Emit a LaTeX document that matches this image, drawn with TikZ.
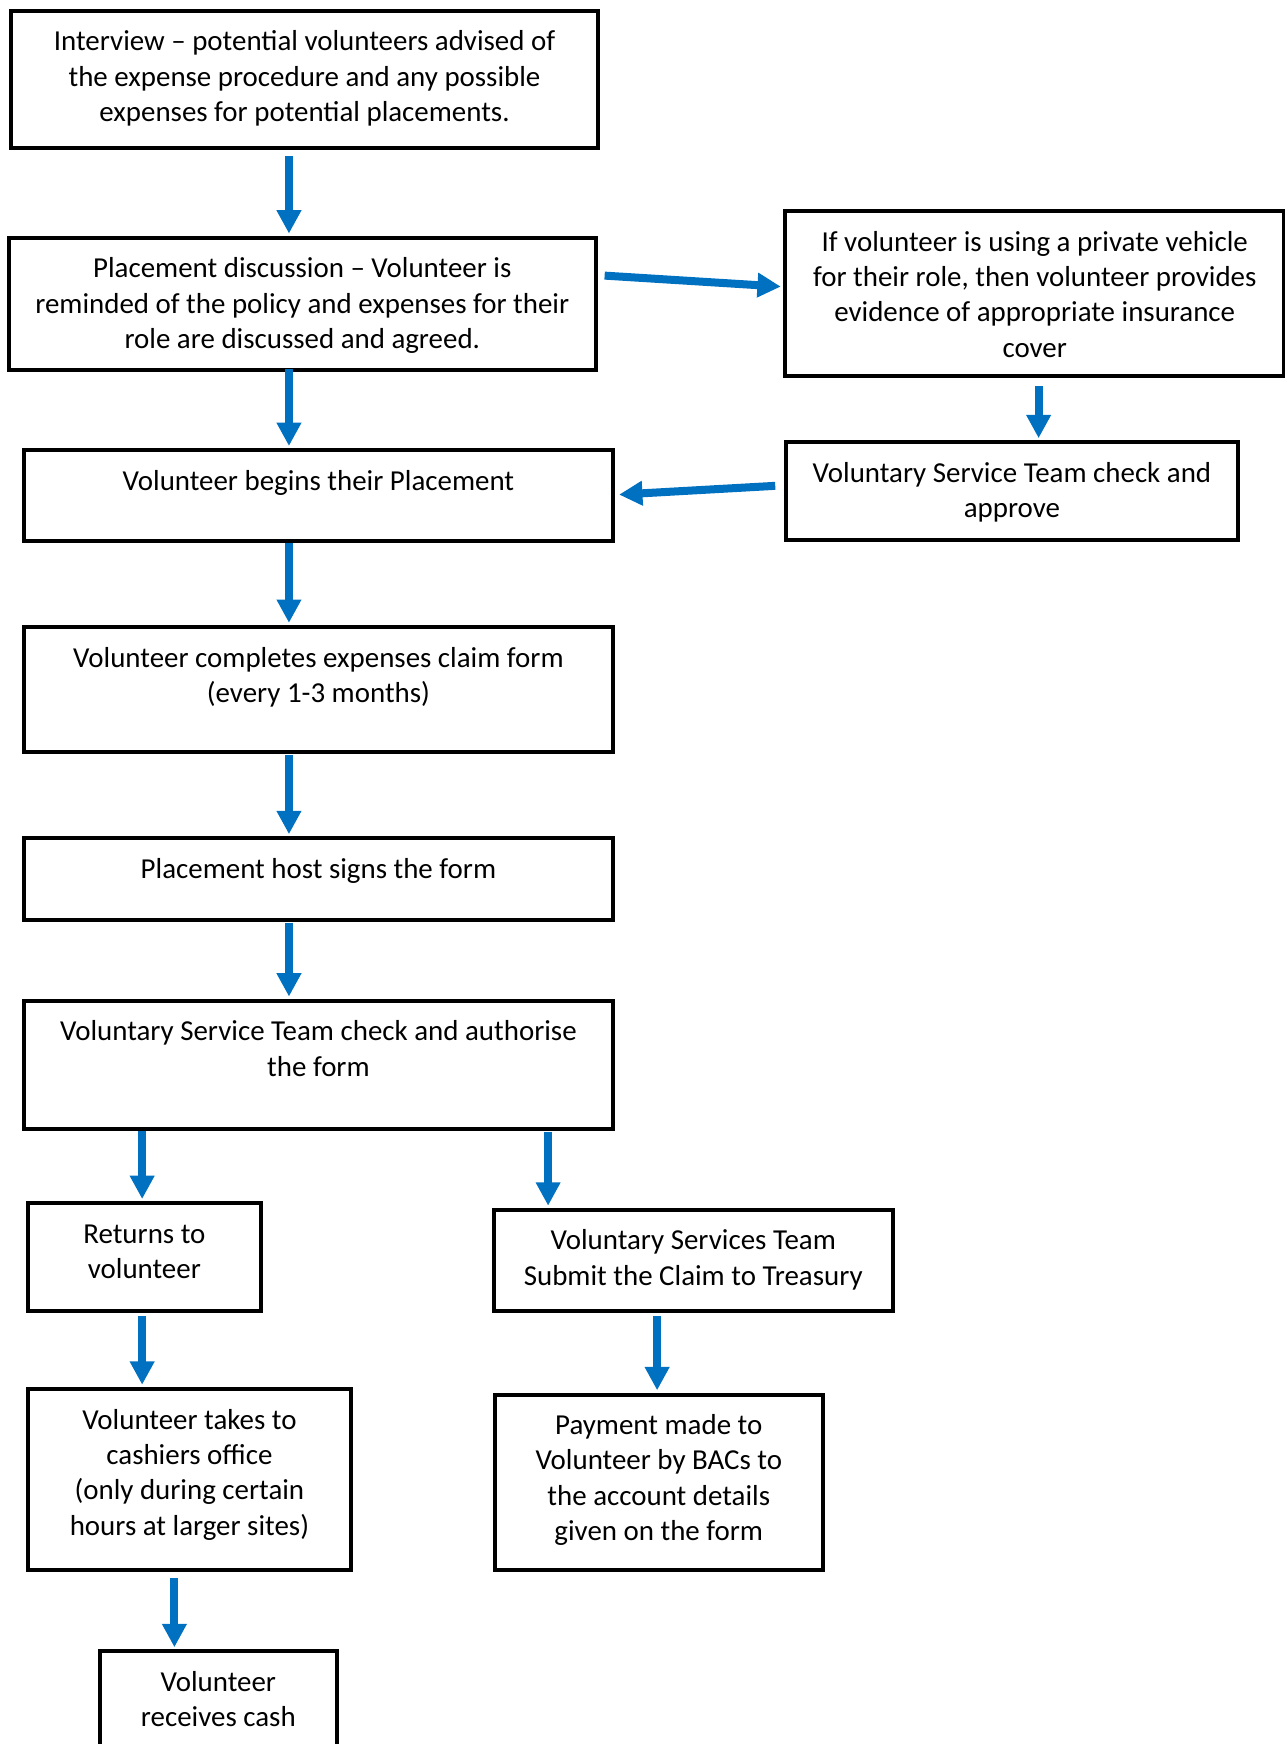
\documentclass[tikz,border=0pt]{standalone}
\usepackage{fontspec}
\setmainfont{Carlito}
\usetikzlibrary{arrows.meta}
\usetikzlibrary{calc}

\definecolor{flowblue}{RGB}{0,112,192}
\newcommand\boxtext[3]{\parbox[t][#2][t]{#1}{\centering\rule{0pt}{18pt}#3}}

\begin{document}
\begin{tikzpicture}[x=0.5pt, y=-0.5pt,
  font=\fontsize{13pt}{15.9pt}\selectfont,
  blk/.style={draw, line width=1.8pt, inner sep=0pt, anchor=north west},
  flow/.style={color=flowblue, line width=3.6pt, -{Triangle[length=10.5pt,width=10.5pt]}, shorten >=1pt}]
\useasboundingbox (0,0) rectangle (1155,1568);

%Top of the procedure
\node[blk] (interview) at (8,8) {\boxtext{264pt}{61.5pt}{Interview – potential volunteers advised of\\the expense procedure and any possible\\expenses for potential placements.}};
\node[blk] (discuss) at (6,212) {\boxtext{264pt}{59.5pt}{Placement discussion – Volunteer is\\reminded of the policy and expenses for their\\role are discussed and agreed.}};
\node[blk] (vehicle) at (704,188) {\boxtext{224.5pt}{74pt}{If volunteer is using a private vehicle\\for their role, then volunteer provides\\evidence of appropriate insurance\\cover}};
\node[blk] (approve) at (705,396) {\boxtext{203pt}{44pt}{Voluntary Service Team check and\\approve}};
\node[blk] (begins) at (20,403) {\boxtext{264.5pt}{41pt}{Volunteer begins their Placement}};

%Claim
\node[blk] (claim) at (20,562) {\boxtext{264.5pt}{56pt}{Volunteer completes expenses claim form\\(every 1-3 months)}};
\node[blk] (host) at (20,752) {\boxtext{264.5pt}{36.5pt}{Placement host signs the form}};
\node[blk] (authorise) at (20,898) {\boxtext{264.5pt}{57.5pt}{Voluntary Service Team check and authorise\\the form}};

%Two ways of payment
\node[blk] (returns) at (23,1080) {\boxtext{105pt}{48.5pt}{Returns to\\volunteer}};
\node[blk] (submit) at (442,1086) {\boxtext{179.5pt}{45.5pt}{Voluntary Services Team\\Submit the Claim to Treasury}};
\node[blk] (cashier) at (23,1247) {\boxtext{145.5pt}{81.5pt}{Volunteer takes to\\cashiers office\\(only during certain\\hours at larger sites)}};
\node[blk] (payment) at (443,1252) {\boxtext{147.5pt}{79pt}{Payment made to\\Volunteer by BACs to\\the account details\\given on the form}};
\node[blk] (cash) at (88,1483) {\boxtext{106.5pt}{50pt}{Volunteer\\receives cash}};

%Arrows
\foreach \a/\b/\s/\g in {interview/discuss/-7pt/-3pt, discuss/begins/-6pt/1.5pt,
    vehicle/approve/1.75pt/-3.5pt, begins/claim/-13.25pt/0pt, claim/host/-13.25pt/-0.5pt,
    host/authorise/-13.25pt/-0.5pt, authorise/returns/-79.25pt/0pt,
    authorise/submit/103.25pt/-0.5pt, returns/cashier/-1pt/-1.5pt,
    submit/payment/-16.25pt/-1.5pt, cashier/cash/-6.75pt/-2.5pt}
  \draw[flow] ([shift={(\s,\g)}]\a.south) -- ([xshift=\s]\a.south |- \b.north);

\draw[flow] ([shift={(3pt,12.75pt)}]discuss.east) -- ([yshift=3pt]vehicle.west);
\draw[flow] ([shift={(-4pt,2.5pt)}]approve.west) -- ([shift={(1pt,0.5pt)}]begins.east);
\end{tikzpicture}
\end{document}
